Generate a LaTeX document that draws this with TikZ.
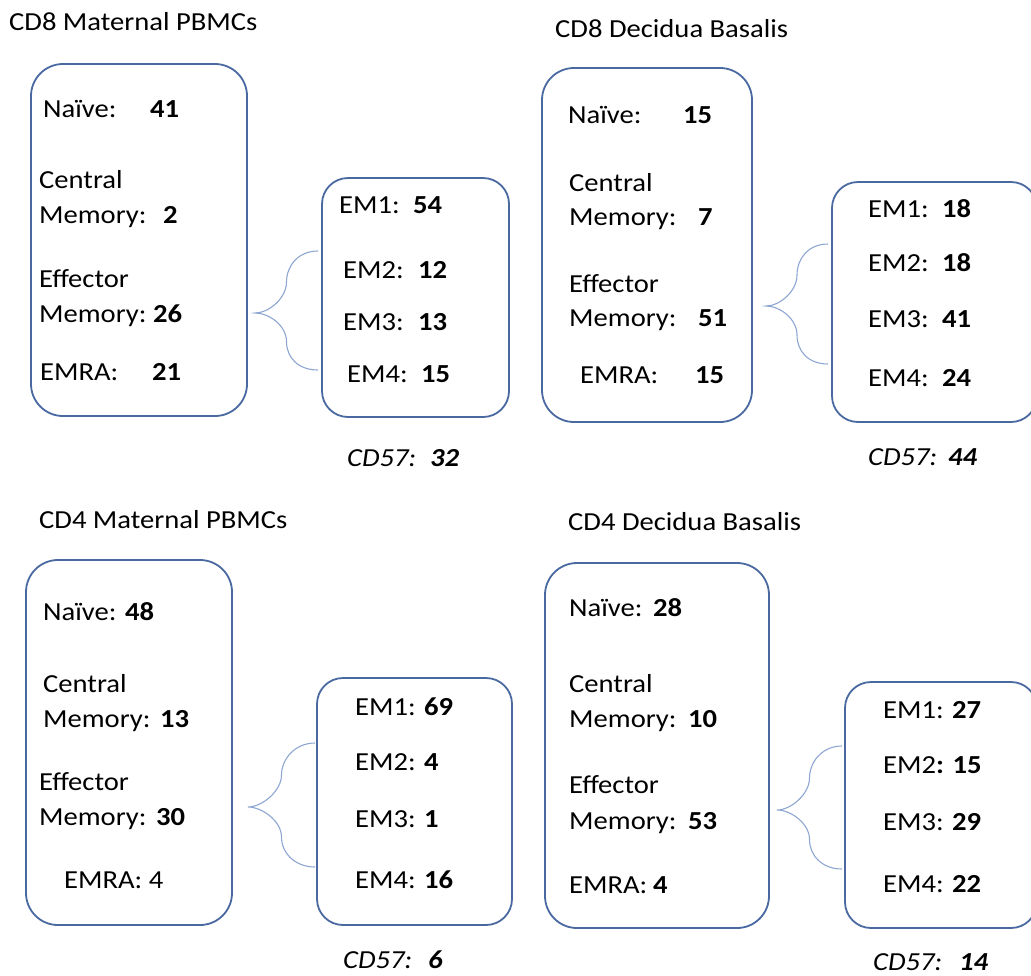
\documentclass[tikz,border=0pt]{standalone}
\usepackage{fontspec}
\setmainfont{Carlito}[FakeStretch=1.1]
\usepackage{xcolor}
\usepackage{tikz}
\usetikzlibrary{fit, calc}
\definecolor{boxblue}{HTML}{4A69A0}
\definecolor{braceblue}{HTML}{8EA6D2}
\newcommand{\fs}{\fontsize{26}{31}\selectfont}
% curly brace: name, end x, top y, tip x, tip y, bottom y
\newcommand{\curly}[6]{%
  \pgfmathsetmacro{\bxv}{(#2+#4)/2}%
  \pgfmathsetmacro{\bya}{(#3+#5)/2}%
  \pgfmathsetmacro{\byb}{(#5+#6)/2}%
  \coordinate (#1t) at (#2,#3);
  \coordinate (#1m) at (#4,#5);
  \coordinate (#1b) at (#2,#6);
  \draw[brc] (#1t) .. controls +(-20,0) and +(0,-16) .. (\bxv,\bya)
    .. controls +(0,16) and +(14,0) .. (#1m)
    .. controls +(14,0) and +(0,-16) .. (\bxv,\byb)
    .. controls +(0,16) and +(-20,0) .. (#1b);}

\begin{document}
\begin{tikzpicture}[x=1pt, y=-1pt,
  font=\fs,
  bigbox/.style={rectangle, rounded corners=32pt, draw=boxblue, line width=1.8pt,
                 inner sep=0pt},
  subbox/.style={bigbox, rounded corners=26pt},
  lbl/.style={anchor=base west, inner sep=0pt},
  num/.style={lbl, font=\fs\bfseries},
  cdl/.style={lbl, font=\fs\itshape},
  cdn/.style={lbl, font=\fs\bfseries\itshape},
  brc/.style={draw=braceblue, line width=1.1pt},
]
\useasboundingbox (0,0) rectangle (1031,975);
\clip (0,0) rectangle (1031,975);
% ---------------- CD8 maternal PBMCs
\begin{scope}[shift={(0,0)}]
  \node[lbl] (atitle) at (9,30) {CD8 Maternal PBMCs};
  \node[bigbox, fit={(31,64)(247,416)}] (abox) {};
  \node[lbl] (anai) at (43,117) {Naïve:};
  \node[num] (anaiv) at (150,117) {41};
  \node[lbl] (acen) at (39,188) {Central};
  \node[lbl] (acm) at (39,223) {Memory:};
  \node[num] (acmv) at (163,223) {2};
  \node[lbl] (aeff) at (39,287) {Effector};
  \node[lbl] (aem) at (39,322) {Memory:};
  \node[num] (aemv) at (153,322) {26};
  \node[lbl] (aemra) at (40,380) {EMRA:};
  \node[num] (aemrav) at (152,380) {21};
  \node[subbox, fit={(322,178)(509,417)}] (asub) {};
  \node[lbl] (aem1) at (339,213) {EM1:};
  \node[num] (aem1v) at (413,213) {54};
  \node[lbl] (aem2) at (343,278) {EM2:};
  \node[num] (aem2v) at (418,278) {12};
  \node[lbl] (aem3) at (343,330) {EM3:};
  \node[num] (aem3v) at (418,330) {13};
  \node[lbl] (aem4) at (347,382) {EM4:};
  \node[num] (aem4v) at (421,382) {15};
  \node[cdl] (acd) at (347,466) {CD57:};
  \node[cdn] (acdv) at (430,466) {32};
  \curly{abr}{318}{251}{255}{313}{370}
\end{scope}
% ---------------- CD8 decidua basalis
\begin{scope}[shift={(520,0)}]
  \node[lbl] (btitle) at (35,37) {CD8 Decidua Basalis};
  \node[bigbox, fit={(22,68)(232,422)}] (bbox) {};
  \node[lbl] (bnai) at (48,123) {Naïve:};
  \node[num] (bnaiv) at (163,123) {15};
  \node[lbl] (bcen) at (49,191) {Central};
  \node[lbl] (bcm) at (49,225) {Memory:};
  \node[num] (bcmv) at (178,225) {7};
  \node[lbl] (beff) at (49,292) {Effector};
  \node[lbl] (bem) at (49,326) {Memory:};
  \node[num] (bemv) at (178,326) {51};
  \node[lbl] (bemra) at (60,383) {EMRA:};
  \node[num] (bemrav) at (175,383) {15};
  \node[subbox, fit={(312,182)(517,422)}] (bsub) {};
  \node[lbl] (bem1) at (348,217) {EM1:};
  \node[num] (bem1v) at (422,217) {18};
  \node[lbl] (bem2) at (348,271) {EM2:};
  \node[num] (bem2v) at (422,271) {18};
  \node[lbl] (bem3) at (348,327) {EM3:};
  \node[num] (bem3v) at (422,327) {41};
  \node[lbl] (bem4) at (348,386) {EM4:};
  \node[num] (bem4v) at (422,386) {24};
  \node[cdl] (bcd) at (348,465) {CD57:};
  \node[cdn] (bcdv) at (428,465) {44};
  \curly{bbr}{308}{244}{246}{306}{364}
\end{scope}
% ---------------- CD4 maternal PBMCs
\begin{scope}[shift={(0,480)}]
  \node[lbl] (ctitle) at (39,48) {CD4 Maternal PBMCs};
  \node[bigbox, fit={(26,80)(232,445)}] (cbox) {};
  \node[lbl] (cnai) at (43,140) {Naïve:};
  \node[num] (cnaiv) at (125,140) {48};
  \node[lbl] (ccen) at (43,212) {Central};
  \node[lbl] (ccm) at (43,247) {Memory:};
  \node[num] (ccmv) at (160,247) {13};
  \node[lbl] (ceff) at (39,310) {Effector};
  \node[lbl] (cem) at (39,345) {Memory:};
  \node[num] (cemv) at (156,345) {30};
  \node[lbl] (cemra) at (64,408) {EMRA: 4};
  \node[subbox, fit={(317,198)(512,445)}] (csub) {};
  \node[lbl] (cem1) at (355,235) {EM1:};
  \node[num] (cem1v) at (424,235) {69};
  \node[lbl] (cem2) at (355,290) {EM2:};
  \node[num] (cem2v) at (424,290) {4};
  \node[lbl] (cem3) at (355,347) {EM3:};
  \node[num] (cem3v) at (424,347) {1};
  \node[lbl] (cem4) at (355,408) {EM4:};
  \node[num] (cem4v) at (424,408) {16};
  \node[cdl] (ccd) at (343,488) {CD57:};
  \node[cdn] (ccdv) at (428,488) {6};
  \curly{cbr}{315}{263}{248}{327}{387}
\end{scope}
% ---------------- CD4 decidua basalis
\begin{scope}[shift={(520,480)}]
  \node[lbl] (dtitle) at (48,50) {CD4 Decidua Basalis};
  \node[bigbox, fit={(25,83)(249,448)}] (dbox) {};
  \node[lbl] (dnai) at (49,136) {Naïve:};
  \node[num] (dnaiv) at (133,136) {28};
  \node[lbl] (dcen) at (49,212) {Central};
  \node[lbl] (dcm) at (49,247) {Memory:};
  \node[num] (dcmv) at (168,247) {10};
  \node[lbl] (deff) at (49,313) {Effector};
  \node[lbl] (dem) at (49,349) {Memory:};
  \node[num] (demv) at (168,349) {53};
  \node[lbl] (demra) at (49,413) {EMRA:};
  \node[num] (demrav) at (133,413) {4};
  \node[subbox, fit={(325,202)(517,448)}] (dsub) {};
  \node[lbl] (dem1) at (363,238) {EM1:};
  \node[num] (dem1v) at (432,238) {27};
  \node[lbl] (dem2) at (363,293) {EM2\textbf{: 15}};
  \node[lbl] (dem3) at (363,350) {EM3:};
  \node[num] (dem3v) at (432,350) {29};
  \node[lbl] (dem4) at (363,412) {EM4:};
  \node[num] (dem4v) at (432,412) {22};
  \node[cdl] (dcd) at (353,490) {CD57:};
  \node[cdn] (dcdv) at (439,490) {14};
  \curly{dbr}{322}{266}{257}{330}{389}
\end{scope}
\end{tikzpicture}
\end{document}
